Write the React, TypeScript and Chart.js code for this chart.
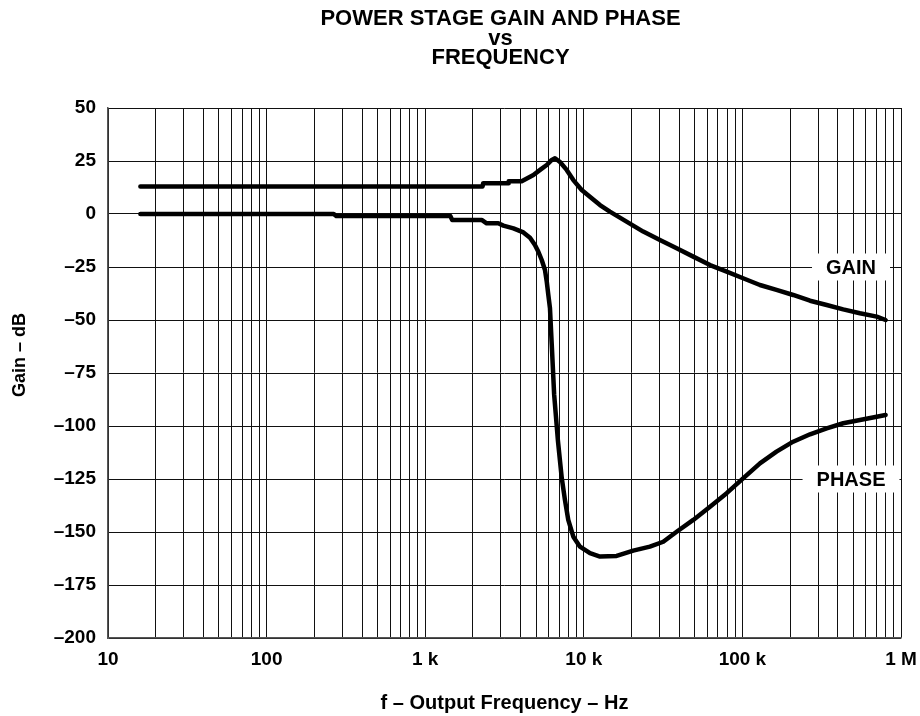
import React, { useEffect, useRef } from "react";
import { Chart, registerables } from "chart.js";

Chart.register(...registerables);

// ---- data ----
const titleLines = ["POWER STAGE GAIN AND PHASE", "vs", "FREQUENCY"];
const xAxisTitle = "f – Output Frequency – Hz";
const yAxisTitle = "Gain – dB";

const xTickValues = [10, 100, 1000, 10000, 100000, 1000000];
const xTickLabels = ["10", "100", "1 k", "10 k", "100 k", "1 M"];
const xDecades = [10, 100, 1000, 10000, 100000];
const xMultipliers = [1, 2, 3, 4, 5, 6, 7, 8, 9];

const gainFreq = [16, 2300, 2320, 3340, 3360, 4060, 4810, 5300, 5840, 6280, 6580, 7080, 7800, 8590, 9700, 11220, 12650, 14600, 18600, 23700, 30200, 38500, 49000, 62500, 79600, 101000, 129000, 164000, 209000, 267000, 340000, 432000, 551000, 703000, 800000];
const gainDb = [13, 13, 14.5, 14.5, 15.5, 15.5, 18.4, 20.8, 23.1, 25.5, 26.3, 24.5, 20.8, 16, 11.3, 7.4, 4.2, 1.1, -3.6, -8.3, -12.3, -16.2, -20.1, -24.1, -27.2, -30.3, -33.5, -35.8, -38.2, -40.9, -42.9, -45, -46.8, -48.4, -50];

const phaseFreq = [16, 265, 275, 1440, 1480, 2270, 2440, 2890, 3110, 3600, 4160, 4580, 4920, 5170, 5430, 5690, 5840, 5970, 6120, 6280, 6500, 6870, 7260, 7610, 7980, 8590, 9460, 10940, 12650, 16100, 20500, 26100, 31700, 38500, 49000, 62500, 79600, 101000, 129000, 164000, 209000, 267000, 340000, 432000, 551000, 703000, 800000];
const phaseDeg = [0, 0, -1, -1, -2.8, -2.8, -4.4, -4.4, -5.5, -6.8, -8.7, -11.2, -14.6, -17.8, -21.7, -26.4, -31.9, -38, -44.5, -61.6, -85, -107, -124.5, -135, -144.3, -152.2, -156.9, -160, -161.6, -161.3, -158.8, -156.9, -154.6, -149.9, -144.3, -138.1, -131.7, -124.7, -117.6, -112.1, -107.4, -103.9, -101.1, -98.7, -97.2, -95.6, -94.8];

const curveLabels = ["GAIN", "PHASE"];
const curveLabelFreq = [484000, 484000];
const curveLabelValue = [-25, -125];

const FONT = '"Liberation Sans", Arial, Helvetica, sans-serif';

const overlayPlugin = {
  id: "overlayText",
  afterDatasetsDraw(chart: any) {
    const { ctx, scales } = chart;
    ctx.save();
    ctx.font = `bold 20px ${FONT}`;
    ctx.textAlign = "center";
    ctx.textBaseline = "middle";
    curveLabels.forEach((t, i) => {
      const x = scales.x.getPixelForValue(curveLabelFreq[i]);
      const y = scales.y.getPixelForValue(curveLabelValue[i]);
      const w = ctx.measureText(t).width + 28;
      const h = 27;
      ctx.fillStyle = "#fff";
      ctx.fillRect(x - w / 2, y - h / 2, w, h);
      ctx.fillStyle = "#000";
      ctx.fillText(t, x, y + 1);
    });
    ctx.restore();
  },
  afterDraw(chart: any) {
    const { ctx, chartArea } = chart;
    ctx.save();
    ctx.textAlign = "center";
    ctx.textBaseline = "middle";
    ctx.fillStyle = "#000";
    ctx.font = `bold 22px ${FONT}`;
    const cx = (chartArea.left + chartArea.right) / 2 - 4;
    titleLines.forEach((t, i) => ctx.fillText(t, cx, 19 + i * 19.5));
    // y-axis title
    ctx.font = `bold 18px ${FONT}`;
    ctx.translate(20, 355);
    ctx.rotate(-Math.PI / 2);
    ctx.fillText(yAxisTitle, 0, 0);
    ctx.restore();
  },
};

export default function App() {
  const ref = useRef<HTMLCanvasElement>(null);
  useEffect(() => {
    if (!ref.current) return;
    const gridValues: number[] = [];
    xDecades.forEach((d) => xMultipliers.forEach((m) => gridValues.push(d * m)));
    gridValues.push(1000000);
    const tickFont = { family: FONT, size: 19, weight: "bold" as const };
    const chart = new Chart(ref.current, {
      type: "line",
      data: {
        datasets: [
          {
            label: "GAIN",
            data: gainFreq.map((f, i) => ({ x: f, y: gainDb[i] })),
            borderColor: "#000",
            borderWidth: 4.5,
            pointRadius: 0,
            borderCapStyle: "round",
            borderJoinStyle: "round",
            tension: 0,
            fill: false,
          },
          {
            label: "PHASE",
            data: phaseFreq.map((f, i) => ({ x: f, y: phaseDeg[i] })),
            borderColor: "#000",
            borderWidth: 4.5,
            pointRadius: 0,
            borderCapStyle: "round",
            borderJoinStyle: "round",
            tension: 0,
            fill: false,
          },
        ],
      },
      options: {
        animation: false,
        responsive: false,
        events: [],
        layout: { padding: { left: 0, right: 19, top: 108, bottom: 0 } },
        plugins: {
          legend: { display: false },
          title: { display: false },
          tooltip: { enabled: false },
        },
        scales: {
          x: {
            type: "logarithmic",
            min: 10,
            max: 1000000,
            afterBuildTicks: (s: any) => {
              s.ticks = gridValues.map((v) => ({ value: v }));
            },
            afterFit: (s: any) => {
              s.height = 78;
              s.paddingLeft = 0;
              s.paddingRight = 0;
            },
            grid: { color: "#111", lineWidth: 1, drawTicks: false },
            border: { color: "#555", width: 1.5 },
            ticks: {
              autoSkip: false,
              maxRotation: 0,
              padding: 10,
              color: "#000",
              font: tickFont,
              callback: (v: any) => {
                const idx = xTickValues.indexOf(Number(v));
                return idx >= 0 ? xTickLabels[idx] : "";
              },
            },
            title: {
              display: true,
              text: xAxisTitle,
              color: "#000",
              font: { family: FONT, size: 20, weight: "bold" as const },
              padding: { top: 0, bottom: 1 },
            },
          },
          y: {
            type: "linear",
            min: -200,
            max: 50,
            afterFit: (s: any) => {
              s.width = 108;
              s.paddingTop = 0;
              s.paddingBottom = 0;
            },
            grid: { color: "#111", lineWidth: 1, drawTicks: false },
            border: { color: "#555", width: 1.5 },
            ticks: {
              stepSize: 25,
              padding: 12,
              color: "#000",
              font: tickFont,
              callback: (v: any) => (Number(v) < 0 ? "–" + Math.abs(Number(v)) : String(v)),
            },
            title: { display: false },
          },
        },
      },
      plugins: [overlayPlugin],
    });
    return () => chart.destroy();
  }, []);
  return (
    <div style={{ position: "fixed", left: 0, top: 0, width: 920, height: 716, background: "#fff" }}>
      <canvas ref={ref} width={920} height={716} style={{ display: "block" }} />
    </div>
  );
}
